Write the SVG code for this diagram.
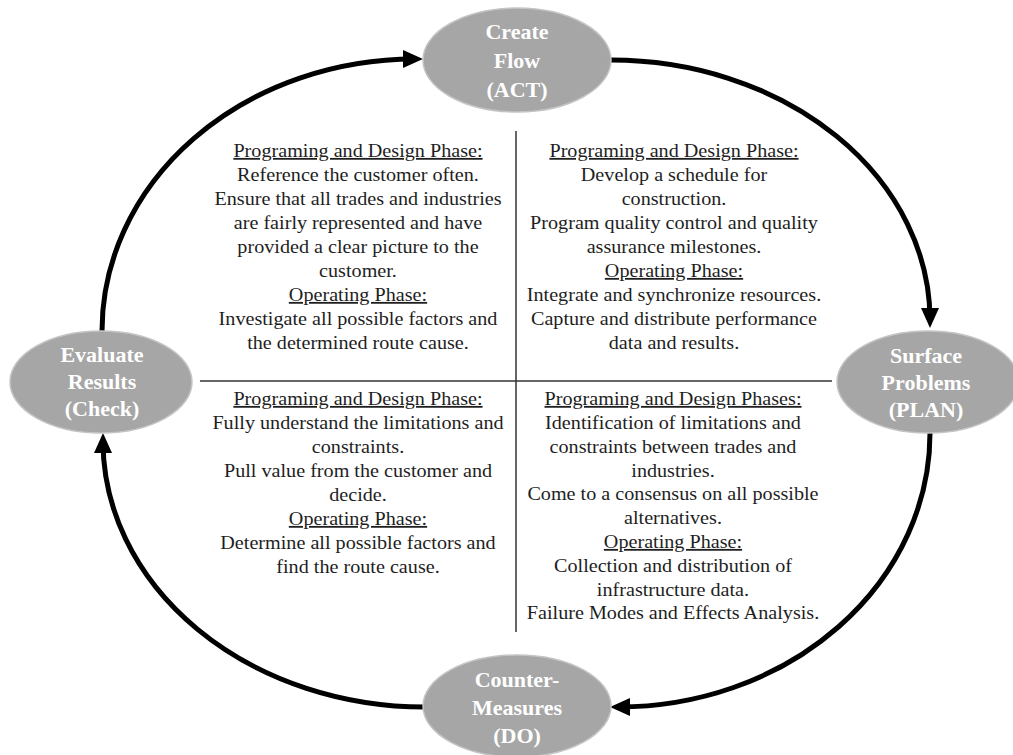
<svg xmlns="http://www.w3.org/2000/svg" width="1013" height="755" viewBox="0 0 1013 755">
  <style>
    .node { fill: #a6a6a6; stroke: #c4c4c4; stroke-width: 1.5; }
    .nlabel { font-family: "Liberation Serif", "Times New Roman", serif; font-size: 22px; font-weight: bold; fill: #ffffff; text-anchor: middle; }
    .body { font-family: "Liberation Serif", "Times New Roman", serif; font-size: 18px; fill: #1e1e1e; text-anchor: middle; }
    .head { text-decoration: underline; }
    .flow { fill: none; stroke: #000000; stroke-width: 5; }
    .divider { stroke: #333333; stroke-width: 1.5; }
  </style>
  <defs>
    <marker id="arrow" markerUnits="userSpaceOnUse" markerWidth="22" markerHeight="20" refX="12" refY="9" orient="auto">
      <path d="M0,0 L20,9 L0,18 z" fill="#000000"/>
    </marker>
  </defs>
  <rect width="1013" height="755" fill="#ffffff"/>

  <!-- quadrant dividers -->
  <g id="dividers">
    <line class="divider" x1="516" y1="131" x2="516" y2="632"/>
    <line class="divider" x1="200" y1="381" x2="832" y2="381"/>
  </g>

  <!-- cycle connectors -->
  <g id="connectors">
    <path class="flow" d="M102,331 A313,272 0 0 1 415,59" marker-end="url(#arrow)"/>
    <path class="flow" d="M611,60 A319,260 0 0 1 930,320" marker-end="url(#arrow)"/>
    <path class="flow" d="M930,433 A312,274 0 0 1 618,707" marker-end="url(#arrow)"/>
    <path class="flow" d="M425,707 A322,266 0 0 1 103,441" marker-end="url(#arrow)"/>
  </g>

  <g id="node-act">
    <ellipse class="node" cx="517" cy="60" rx="94" ry="52"/>
    <text class="nlabel" x="517" y="39">Create</text>
    <text class="nlabel" x="517" y="68">Flow</text>
    <text class="nlabel" x="517" y="97">(ACT)</text>
  </g>

  <g id="node-check">
    <ellipse class="node" cx="101" cy="382" rx="91" ry="51"/>
    <text class="nlabel" x="102" y="362">Evaluate</text>
    <text class="nlabel" x="102" y="389">Results</text>
    <text class="nlabel" x="102" y="416">(Check)</text>
  </g>

  <g id="node-plan">
    <ellipse class="node" cx="928" cy="382" rx="91" ry="51"/>
    <text class="nlabel" x="926" y="363">Surface</text>
    <text class="nlabel" x="926" y="390">Problems</text>
    <text class="nlabel" x="926" y="417">(PLAN)</text>
  </g>

  <g id="node-do">
    <ellipse class="node" cx="517" cy="706" rx="94" ry="51"/>
    <text class="nlabel" x="517" y="687">Counter-</text>
    <text class="nlabel" x="517" y="715">Measures</text>
    <text class="nlabel" x="517" y="743">(DO)</text>
  </g>

  <!-- quadrant notes, set slightly wide -->
  <g id="quadrant-act" transform="translate(358,0) scale(1.12,1) translate(-358,0)">
    <text class="body head" x="358" y="157">Programing and Design Phase:</text>
    <text class="body" x="358" y="181">Reference the customer often.</text>
    <text class="body" x="358" y="205">Ensure that all trades and industries</text>
    <text class="body" x="358" y="229">are fairly represented and have</text>
    <text class="body" x="358" y="253">provided a clear picture to the</text>
    <text class="body" x="358" y="277">customer.</text>
    <text class="body head" x="358" y="301">Operating Phase:</text>
    <text class="body" x="358" y="325">Investigate all possible factors and</text>
    <text class="body" x="358" y="349">the determined route cause.</text>
  </g>

  <g id="quadrant-plan-top" transform="translate(674,0) scale(1.12,1) translate(-674,0)">
    <text class="body head" x="674" y="157">Programing and Design Phase:</text>
    <text class="body" x="674" y="181">Develop a schedule for</text>
    <text class="body" x="674" y="205">construction.</text>
    <text class="body" x="674" y="229">Program quality control and quality</text>
    <text class="body" x="674" y="253">assurance milestones.</text>
    <text class="body head" x="674" y="277">Operating Phase:</text>
    <text class="body" x="674" y="301">Integrate and synchronize resources.</text>
    <text class="body" x="674" y="325">Capture and distribute performance</text>
    <text class="body" x="674" y="349">data and results.</text>
  </g>

  <g id="quadrant-check" transform="translate(358,0) scale(1.12,1) translate(-358,0)">
    <text class="body head" x="358" y="405">Programing and Design Phase:</text>
    <text class="body" x="358" y="429">Fully understand the limitations and</text>
    <text class="body" x="358" y="453">constraints.</text>
    <text class="body" x="358" y="477">Pull value from the customer and</text>
    <text class="body" x="358" y="501">decide.</text>
    <text class="body head" x="358" y="525">Operating Phase:</text>
    <text class="body" x="358" y="549">Determine all possible factors and</text>
    <text class="body" x="358" y="573">find the route cause.</text>
  </g>

  <g id="quadrant-do" transform="translate(673,0) scale(1.12,1) translate(-673,0)">
    <text class="body head" x="673" y="405">Programing and Design Phases:</text>
    <text class="body" x="673" y="429">Identification of limitations and</text>
    <text class="body" x="673" y="453">constraints between trades and</text>
    <text class="body" x="673" y="477">industries.</text>
    <text class="body" x="673" y="500">Come to a consensus on all possible</text>
    <text class="body" x="673" y="524">alternatives.</text>
    <text class="body head" x="673" y="548">Operating Phase:</text>
    <text class="body" x="673" y="572">Collection and distribution of</text>
    <text class="body" x="673" y="596">infrastructure data.</text>
    <text class="body" x="673" y="619">Failure Modes and Effects Analysis.</text>
  </g>
</svg>
